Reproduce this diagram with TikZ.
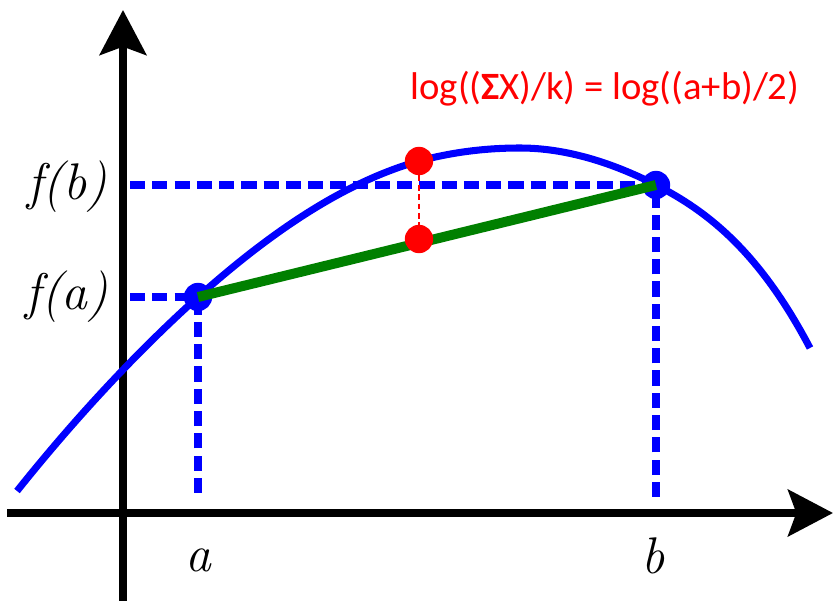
\documentclass[tikz,border=0pt]{standalone}
\usepackage{fontspec}
\newfontfamily\eqfont{Carlito}
\usepackage{tikz}
\usetikzlibrary{arrows.meta}

\begin{document}
\begin{tikzpicture}[x=0.03cm, y=-0.03cm,
  axis/.style={line width=6pt, -{Stealth[length=1.35cm, width=1.4cm, inset=0.25cm]}},
  guide/.style={blue, line width=6pt, dash pattern=on 13pt off 6pt},
  curve/.style={blue, line width=6pt},
  chord/.style={green!50!black, line width=8.5pt},
  bdot/.style={circle, fill=blue, inner sep=0pt, minimum size=0.85cm},
  rdot/.style={circle, fill=red, inner sep=0pt, minimum size=0.85cm},
  lab/.style={font=\fontsize{44}{50}\selectfont\itshape}]
  \useasboundingbox (0,0) rectangle (834,601);
  % axes
  \coordinate (ybot) at (123,601); \coordinate (ytop) at (123,10);
  \coordinate (xl) at (7,513); \coordinate (xr) at (833,513);
  \draw[axis] (ybot) -- (ytop);
  \draw[axis] (xl) -- (xr);
  % end points of the chord
  \coordinate (A) at (198,297); \coordinate (B) at (656,185);
  \coordinate (M) at (419,161); \coordinate (C) at (419,239);
  \coordinate (fa) at (130,297); \coordinate (fb) at (130,185);
  \coordinate (ga) at (198,493); \coordinate (gb) at (656,497);
  \draw[guide] (fa) -- (A); \draw[guide] (fb) -- (B);
  \draw[guide] (ga) -- (A); \draw[guide] (gb) -- (B);
  % concave function
  \draw[curve] (17,491) .. controls (77,416) and (138,351) .. (A)
    .. controls (272,231) and (345,182) .. (M)
    .. controls (453,152) and (486,148) .. (520,148)
    .. controls (565,148) and (611,162) .. (B)
    .. controls (707,211) and (759,251) .. (810,348);
  \node[bdot] (pa) at (A) {};
  \node[bdot] (pb) at (B) {};
  \draw[chord] (pa.center) -- (pb.center);
  % mean of the images vs image of the mean
  \node[rdot] (top) at (M) {};
  \node[rdot] (mid) at (C) {};
  \draw[red, line width=1.2pt, dash pattern=on 5pt off 3pt] (top) -- (mid);
  \node[text=red, font=\eqfont\fontsize{33}{38}\selectfont] (eq) at (605,89)
    {log((\textbf{Σ}X)/k) = log((a+b)/2)};
  % labels
  \node[lab] (lfb) at (67,187) {f(b)};
  \node[lab] (lfa) at (67,297) {f(a)};
  \node[lab] (la) at (198,560) {a};
  \node[lab] (lb) at (653,556) {b};
\end{tikzpicture}
\end{document}
